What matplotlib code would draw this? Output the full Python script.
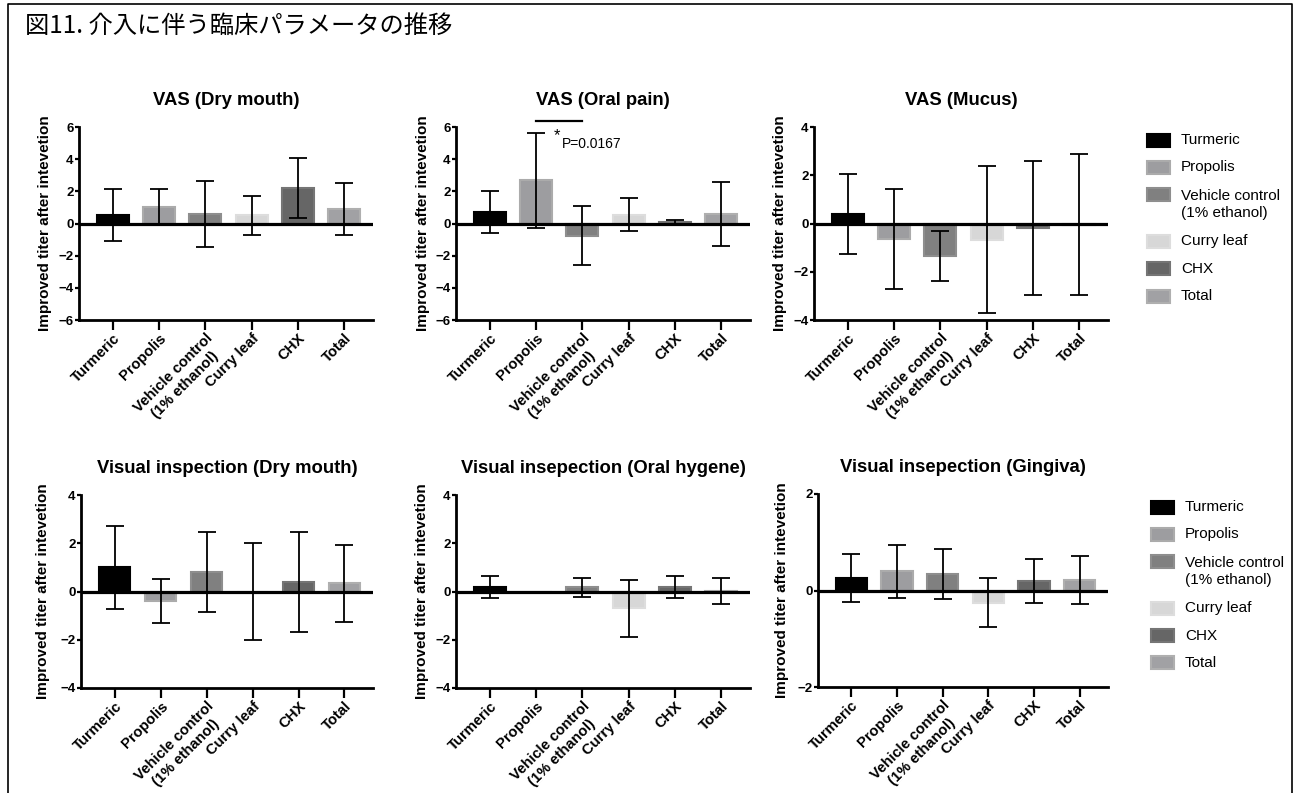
import matplotlib
matplotlib.use("Agg")
import matplotlib.pyplot as plt
from matplotlib.patches import Rectangle
from matplotlib.lines import Line2D
import numpy as np

plt.rcParams['font.family'] = ['Liberation Sans', 'DejaVu Sans']

# groups and colours
groups = ["Turmeric", "Propolis", "Vehicle control\n(1% ethanol)", "Curry leaf", "CHX", "Total"]
face_colors = ["#000000", "#9d9da0", "#808080", "#d7d7d7", "#666666", "#a1a1a4"]
edge_colors = ["#000000", "#ababab", "#8e8e8e", "#dddddd", "#757575", "#afafaf"]

# mean change and error
vas_dry_mean = [0.55, 1.05, 0.6, 0.5, 2.2, 0.9]
vas_dry_err = [1.62, 1.1, 2.05, 1.22, 1.85, 1.6]

vas_pain_mean = [0.7, 2.7, -0.75, 0.55, 0.1, 0.6]
vas_pain_err = [1.3, 2.95, 1.85, 1.03, 0.13, 2.0]

vas_mucus_mean = [0.4, -0.63, -1.35, -0.68, -0.2, -0.05]
vas_mucus_err = [1.67, 2.07, 1.02, 3.05, 2.77, 2.93]

vis_dry_mean = [1.0, -0.4, 0.8, 0.0, 0.4, 0.34]
vis_dry_err = [1.73, 0.9, 1.65, 2.0, 2.07, 1.59]

vis_hyg_mean = [0.2, 0.0, 0.17, -0.7, 0.2, 0.04]
vis_hyg_err = [0.45, 0.0, 0.4, 1.17, 0.45, 0.54]

vis_ging_mean = [0.26, 0.4, 0.34, -0.25, 0.2, 0.22]
vis_ging_err = [0.5, 0.55, 0.52, 0.5, 0.45, 0.5]

titles = ["VAS (Dry mouth)", "VAS (Oral pain)", "VAS (Mucus)",
          "Visual inspection (Dry mouth)", "Visual insepection (Oral hygene)",
          "Visual insepection (Gingiva)"]
means = [vas_dry_mean, vas_pain_mean, vas_mucus_mean, vis_dry_mean, vis_hyg_mean, vis_ging_mean]
errs = [vas_dry_err, vas_pain_err, vas_mucus_err, vis_dry_err, vis_hyg_err, vis_ging_err]
ylims = [6, 6, 4, 4, 4, 2]
ylabel = "Improved titer after intevetion"

W, H = 1297, 793
fig = plt.figure(figsize=(W / 100, H / 100), dpi=100)


def fx(x):
    return x / W


def fy(y):
    return 1 - y / H


# axes boxes in pixels: left, top, width, height
boxes = [(79, 127, 294, 193), (456, 127, 294, 193), (814, 127, 294, 193),
         (81, 495, 292, 193), (456, 495, 294, 193), (818, 494, 290, 193)]
label_dx = [34, 33, 34, 38, 34, 36]

x = np.arange(len(groups))
for i in range(6):
    l, t, w, h = boxes[i]
    ax = fig.add_axes([fx(l), fy(t + h), w / W, h / H])
    ax.bar(x, means[i], width=0.69, color=face_colors, edgecolor=edge_colors,
           linewidth=1.5, zorder=2)
    ax.axhline(0, color="black", lw=2.3, zorder=3)
    ax.errorbar(x, means[i], yerr=errs[i], fmt="none", ecolor="black",
                elinewidth=1.3, capsize=6.5, capthick=1.3, zorder=4)
    lim = ylims[i]
    ax.set_ylim(-lim, lim)
    ax.set_yticks(np.arange(-lim, lim + 1, 2))
    ax.set_xlim(-0.73, 5.62)
    ax.set_xticks(x)
    ax.set_xticklabels(groups, rotation=45, ha="right", va="top",
                       rotation_mode="anchor", fontsize=10.7, fontweight="bold",
                       multialignment="center")
    for lab in ax.get_yticklabels():
        lab.set_fontweight("bold")
        lab.set_fontsize(9.5)
    ax.spines["top"].set_visible(False)
    ax.spines["right"].set_visible(False)
    ax.spines["left"].set_linewidth(2)
    ax.spines["bottom"].set_linewidth(2)
    ax.tick_params(axis="x", length=7, width=1.6, pad=1)
    ax.tick_params(axis="y", length=3, width=1.6, pad=1)
    ax.set_title(titles[i], fontsize=13.3, fontweight="bold", pad=16)
    ax.set_ylabel(ylabel, fontsize=11, fontweight="bold", va="center")
    ax.yaxis.set_label_coords(-label_dx[i] / w, 0.5)
    ax.set_facecolor("none")

    if i == 1:
        ax.plot([1, 2], [6.4, 6.4], color="black", lw=1.6, clip_on=False)
        ax.text(1.45, 5.45, "*", fontsize=12, ha="center", va="center")
        ax.text(1.55, 4.97, "P=0.0167", fontsize=10, ha="left", va="center")

# legends
for lx, ly in [(1147, 140), (1151, 507)]:
    y = ly
    for name, fc, ec in zip(groups, face_colors, edge_colors):
        fig.add_artist(Rectangle((fx(lx), fy(y + 6.5)), 23 / W, 13 / H,
                                 transform=fig.transFigure, facecolor=fc,
                                 edgecolor=ec, linewidth=1.5))
        n = name.count("\n")
        fig.text(fx(lx + 34), fy(y + 10 * n), name, fontsize=11, va="center",
                 ha="left", linespacing=1.3)
        y += 27.3 + 19.5 * n

# frame and main title
fig.add_artist(Line2D([fx(8), fx(8), fx(1292), fx(1292)], [0, fy(4), fy(4), 0],
                      transform=fig.transFigure, color="black", lw=1.2))
fig.text(fx(25), fy(26), "図11. 介入に伴う臨床パラメータの推移", fontsize=17.5,
         va="center", ha="left", family=["Noto Sans CJK JP", "DejaVu Sans"])

fig.savefig("out.png", dpi=100)
